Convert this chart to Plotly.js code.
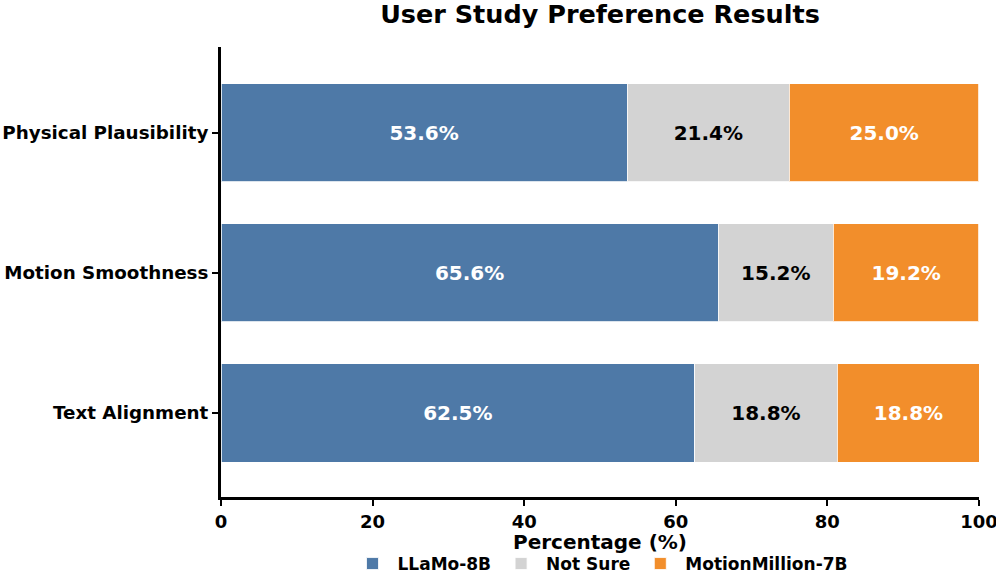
<!DOCTYPE html>
<html>
<head>
<meta charset="utf-8">
<script src="https://cdn.plot.ly/plotly-3.0.1.min.js"></script>
<style>html,body{margin:0;padding:0;background:#fff;}#chart{width:996px;height:572px;}</style>
</head>
<body>
<div id="chart"></div>
<script>
const categories = ["Text Alignment", "Motion Smoothness", "Physical Plausibility"];
const llamo = [62.5, 65.6, 53.6];
const notSure = [18.8, 15.2, 21.4];
const motionMillion = [18.8, 19.2, 25.0];
const seriesNames = ["LLaMo-8B", "Not Sure", "MotionMillion-7B"];
const xTicks = [0, 20, 40, 60, 80, 100];
const xTitle = "Percentage (%)";

const FONT = "DejaVu Sans, sans-serif";
function mk(name, vals, color, textColor) {
  return {
    type: "bar", orientation: "h", name: name,
    y: categories, x: vals, width: 0.7,
    marker: {color: color, line: {color: "rgba(255,255,255,0.8)", width: 1}},
    texttemplate: "%{x:.1f}%", textposition: "inside", insidetextanchor: "middle",
    constraintext: "none",
    textfont: {family: FONT, size: 20, color: textColor, weight: "bold"},
    hoverinfo: "skip"
  };
}
const data = [
  mk(seriesNames[0], llamo, "#4e79a7", "#ffffff"),
  mk(seriesNames[1], notSure, "#d3d3d3", "#000000"),
  mk(seriesNames[2], motionMillion, "#f28e2b", "#ffffff")
];
const layout = {
  width: 996, height: 572,
  margin: {l: 221, r: 17, t: 47, b: 75, autoexpand: false},
  paper_bgcolor: "#fff", plot_bgcolor: "#fff",
  barmode: "stack",
  font: {family: FONT, color: "#000"},
  title: {text: "User Study Preference Results", font: {family: FONT, size: 25.5, weight: "bold", color: "#000"},
          x: 0.5, xref: "paper", y: 0.975, yref: "container", yanchor: "middle"},
  xaxis: {
    range: [0, 100.01], tickvals: xTicks, ticktext: xTicks.map(String),
    showgrid: false, zeroline: false, showline: true, linecolor: "#000", linewidth: 3,
    ticks: "outside", ticklen: 6, tickwidth: 2, tickcolor: "#000",
    ticklabeloverflow: "allow",
    tickfont: {family: FONT, size: 18, weight: "bold"}
  },
  yaxis: {
    range: [-0.6, 2.614], showgrid: false, zeroline: false, showline: true, linecolor: "#000", linewidth: 3,
    ticks: "outside", ticklen: 6, tickwidth: 2, tickcolor: "#000",
    tickfont: {family: FONT, size: 18.3, weight: "bold"}
  },
  annotations: [{
    text: xTitle, xref: "paper", yref: "paper", x: 0.5, y: 0, xanchor: "center", yanchor: "middle",
    yshift: -45, showarrow: false, font: {family: FONT, size: 20, weight: "bold", color: "#000"}
  }],
  showlegend: true,
  legend: {orientation: "h", x: 0.5, xanchor: "center", xref: "paper", y: 0.014, yref: "container", yanchor: "middle",
           font: {family: FONT, size: 17, weight: "bold"}, traceorder: "normal", itemwidth: 40, tracegroupgap: 0}
};
Plotly.newPlot("chart", data, layout, {displayModeBar: false, staticPlot: true});
</script>
</body>
</html>
